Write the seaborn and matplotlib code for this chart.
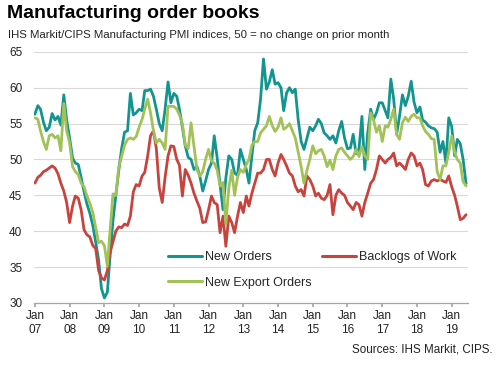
import pandas as pd
import matplotlib
matplotlib.use('Agg')
import matplotlib.pyplot as plt
import seaborn as sns

# monthly index readings, Jan 2007 - Jun 2019
new_orders = [
    56.3, 57.5, 57.0, 55.2, 54.0, 54.5, 56.4, 55.5, 56.0, 54.8, 59.0, 55.5,  # 2007
    53.0, 50.2, 49.5, 49.3, 47.5, 45.5, 43.8, 42.5, 40.8, 38.5, 36.0, 32.0,  # 2008
    30.7, 31.5, 36.5, 41.5, 45.0, 48.5, 51.5, 53.8, 54.0, 59.2, 56.2, 56.5,  # 2009
    57.0, 56.8, 59.6, 59.6, 59.8, 58.8, 57.0, 55.0, 54.0, 57.0, 60.8, 57.9,  # 2010
    59.2, 58.8, 57.0, 54.5, 51.9, 50.3, 50.0, 48.6, 49.0, 47.7, 45.6, 47.0,  # 2011
    48.6, 49.5, 53.3, 50.2, 46.5, 43.0, 47.4, 50.5, 50.0, 48.1, 47.8, 51.4,  # 2012
    50.0, 48.6, 46.7, 50.5, 54.0, 55.1, 58.4, 64.0, 59.8, 60.8, 62.5, 60.5,  # 2013
    60.7, 60.0, 56.8, 59.3, 60.0, 59.3, 59.8, 55.5, 52.5, 51.4, 53.0, 54.5,  # 2014
    54.0, 54.7, 55.6, 55.0, 53.7, 53.3, 52.8, 53.3, 52.3, 54.0, 55.3, 53.0,  # 2015
    51.5, 51.6, 53.5, 50.8, 51.5, 56.0, 48.6, 53.7, 57.0, 55.6, 56.5, 57.9,  # 2016
    57.9, 56.8, 55.8, 61.2, 58.4, 53.5, 56.0, 59.0, 57.5, 58.8, 60.9, 58.0,  # 2017
    56.5, 57.3, 55.5, 55.2, 54.7, 54.4, 54.3, 53.8, 51.0, 52.5, 49.5, 55.8,  # 2018
    54.6, 50.5, 52.8, 52.2, 50.0, 46.6,                                      # 2019
]
backlogs = [
    46.7, 47.5, 47.8, 48.3, 48.5, 48.8, 49.1, 48.8, 48.0, 46.7, 45.6, 44.0,
    41.2, 43.5, 44.9, 44.6, 43.0, 40.2, 39.5, 39.2, 38.0, 37.6, 34.5, 33.5,
    33.2, 34.5, 37.0, 38.5, 40.0, 40.6, 40.5, 41.0, 40.8, 42.1, 45.5, 46.5,
    46.3, 47.7, 48.2, 50.5, 53.3, 54.0, 51.5, 46.0, 44.0, 47.5, 50.5, 51.9,
    51.8, 50.0, 49.2, 44.9, 48.6, 47.8, 46.7, 45.3, 44.2, 43.2, 41.2, 41.3,
    43.0, 44.9, 44.0, 43.7, 39.8, 42.1, 37.9, 42.1, 41.2, 39.8, 42.1, 44.0,
    42.6, 44.9, 43.5, 45.3, 46.7, 48.1, 48.1, 48.6, 50.0, 50.0, 48.6, 47.7,
    49.5, 50.7, 50.0, 49.1, 48.1, 47.7, 46.3, 45.5, 45.8, 44.9, 47.7, 47.2,
    46.3, 44.9, 45.3, 44.6, 44.4, 45.0, 46.5, 42.3, 45.0, 45.8, 45.3, 45.0,
    44.0, 43.5, 43.0, 44.0, 43.7, 42.1, 44.0, 45.3, 46.7, 47.2, 48.6, 50.5,
    50.0, 49.5, 50.0, 50.3, 50.9, 49.1, 49.5, 49.1, 48.6, 50.0, 50.9, 50.5,
    49.1, 49.5, 48.6, 46.5, 46.3, 47.0, 47.2, 47.0, 47.2, 47.0, 46.8, 47.7,
    46.2, 45.0, 43.5, 41.6, 41.8, 42.3,
]
export_orders = [
    55.8, 55.6, 54.0, 52.5, 51.4, 53.3, 53.5, 53.0, 53.3, 51.2, 57.8, 54.0,
    52.3, 49.0, 48.3, 47.9, 46.7, 46.2, 44.9, 43.9, 42.6, 40.5, 38.4, 38.6,
    38.0, 35.1, 40.0, 45.2, 45.0, 49.0, 50.4, 52.0, 52.8, 53.0, 52.8, 53.2,
    54.5, 55.6, 57.0, 58.4, 56.5, 54.0, 52.3, 52.8, 52.3, 51.4, 57.4, 57.4,
    57.4, 57.0, 56.2, 55.0, 52.0, 51.5, 55.1, 51.9, 48.6, 47.7, 48.3, 50.0,
    51.4, 49.8, 49.5, 48.5, 46.3, 46.8, 41.0, 46.0, 48.5, 45.0, 47.5, 48.6,
    48.2, 49.3, 50.0, 52.0, 52.5, 52.5, 53.7, 54.2, 54.7, 56.0, 54.7, 53.9,
    54.5, 55.8, 54.2, 54.5, 55.0, 54.0, 53.0, 51.0, 49.0, 46.7, 48.5, 50.0,
    51.9, 50.8, 51.2, 51.4, 50.5, 49.0, 49.9, 48.6, 50.5, 51.4, 51.6, 51.0,
    50.5, 50.0, 50.4, 51.4, 50.4, 51.8, 50.5, 50.0, 56.5, 55.5, 53.8, 54.7,
    52.5, 54.7, 54.5, 55.6, 57.0, 53.5, 52.8, 55.1, 55.9, 55.3, 56.0, 56.3,
    55.8, 55.8, 54.7, 53.9, 53.5, 52.9, 52.8, 48.3, 47.2, 49.1, 49.1, 51.0,
    53.3, 51.0, 50.0, 49.5, 46.9, 46.3,
]
series_names = ['New Orders', 'Backlogs of Work', 'New Export Orders']
colors = {'New Orders': '#13958f', 'Backlogs of Work': '#c8433d',
          'New Export Orders': '#a2c257'}
years = list(range(2007, 2020))

dates = pd.date_range('2007-01-01', periods=len(new_orders), freq='MS')
df = pd.DataFrame({'date': dates,
                   'New Orders': new_orders,
                   'Backlogs of Work': backlogs,
                   'New Export Orders': export_orders})
df = df.melt(id_vars='date', var_name='series', value_name='value')

sns.set_theme(style='white')
plt.rcParams['font.family'] = ['Liberation Sans', 'DejaVu Sans']

fig = plt.figure(figsize=(5.02, 3.65), dpi=100)
ax = fig.add_axes([0.068, 0.170, 0.864, 0.688])

sns.lineplot(data=df, x='date', y='value', hue='series', hue_order=series_names,
             palette=colors, linewidth=2.0, ax=ax, legend=False)

ax.set_ylim(30, 65)
ax.set_yticks(range(30, 66, 5))
ax.set_xlim(pd.Timestamp('2006-12-24'), pd.Timestamp('2019-06-20'))
ax.set_xticks([pd.Timestamp(f'{y}-01-01') for y in years])
ax.set_xticklabels([f'Jan\n{str(y)[2:]}' for y in years])
ax.set_xlabel('')
ax.set_ylabel('')

ax.grid(axis='y', color='#d9d9d9', linewidth=0.8)
ax.set_axisbelow(True)
for s in ['left', 'right', 'top']:
    ax.spines[s].set_visible(False)
ax.spines['bottom'].set_color('#a6a6a6')
ax.spines['bottom'].set_linewidth(0.9)
ax.tick_params(axis='x', bottom=True, length=3, color='#a6a6a6', labelsize=8.5,
               pad=2, colors='#222222')
ax.tick_params(axis='y', left=False, labelsize=8.5, pad=2.5, colors='#222222')

# legend: first row New Orders / Backlogs, second row New Export Orders
handles = [plt.Line2D([], [], color=colors[n], linewidth=2.2) for n in
           ['New Orders', 'New Export Orders', 'Backlogs of Work']]
ax.legend(handles, ['New Orders', 'New Export Orders', 'Backlogs of Work'],
          ncol=2, loc='upper left', bbox_to_anchor=(0.298, 0.225), frameon=False,
          fontsize=9, handlelength=2.7, handletextpad=0.25, columnspacing=0.8,
          labelspacing=1.05, borderaxespad=0)

fig.text(0.014, 0.962, 'Manufacturing order books', fontsize=14,
         fontweight='bold', ha='left', va='center', color='#000000')
fig.text(0.016, 0.903,
         'IHS Markit/CIPS Manufacturing PMI indices, 50 = no change on prior month',
         fontsize=8.2, ha='left', va='center', color='#222222')
fig.text(0.982, 0.042, 'Sources: IHS Markit, CIPS.', fontsize=8.4, ha='right',
         va='center', color='#222222')

fig.savefig('out.png', dpi=100)
